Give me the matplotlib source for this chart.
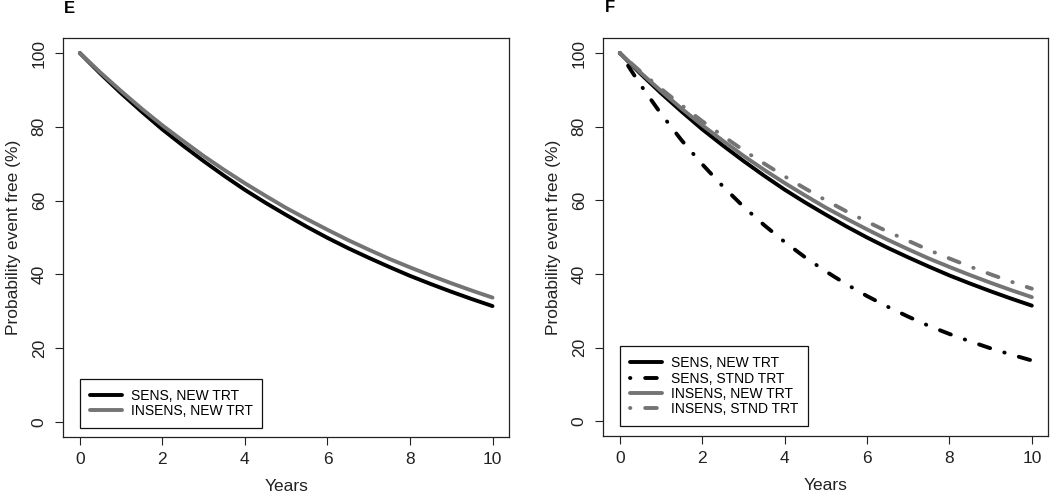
import matplotlib
matplotlib.use("Agg")
import matplotlib.pyplot as plt

plt.rcParams["font.family"] = ["Liberation Sans", "DejaVu Sans"]

years = [0, 0.5, 1, 1.5, 2, 2.5, 3, 3.5, 4, 4.5, 5, 5.5, 6, 6.5, 7, 7.5, 8, 8.5, 9, 9.5, 10]

sens_new = [100, 94.4, 89.1, 84.1, 79.3, 74.9, 70.7, 66.7, 62.9, 59.4, 56.1,
            52.9, 49.9, 47.1, 44.5, 42.0, 39.6, 37.4, 35.3, 33.3, 31.4]
insens_new = [100, 94.7, 89.7, 84.9, 80.4, 76.2, 72.1, 68.3, 64.7, 61.3, 58.0,
              55.0, 52.1, 49.3, 46.7, 44.2, 41.9, 39.7, 37.6, 35.6, 33.7]
sens_stnd = [100, 91.4, 83.5, 76.3, 69.8, 63.8, 58.3, 53.3, 48.7, 44.5, 40.7,
             37.2, 34.0, 31.1, 28.4, 25.9, 23.7, 21.7, 19.8, 18.1, 16.5]
insens_stnd = [100, 95.0, 90.3, 85.8, 81.5, 77.5, 73.6, 70.0, 66.5, 63.2, 60.0,
               57.0, 54.2, 51.5, 49.0, 46.5, 44.2, 42.0, 39.9, 37.9, 36.0]

x_ticks = [0, 2, 4, 6, 8, 10]
y_ticks = [0, 20, 40, 60, 80, 100]

BLACK = "#000000"
GRAY = "#747474"
LW = 2.8
DOTDASH = (0, (0.1, 3.8, 3, 3.8))
FS = 12.5

fig = plt.figure(figsize=(10.5, 4.96), dpi=100)
ax1 = fig.add_axes([0.0603, 0.1196, 0.4245, 0.8032])
ax2 = fig.add_axes([0.5746, 0.1210, 0.4238, 0.8018])


def style_axes(ax):
    ax.set_xlim(-0.4, 10.4)
    ax.set_ylim(-4, 104)
    ax.set_xticks(x_ticks)
    ax.set_yticks(y_ticks)
    ax.tick_params(axis="both", length=5.5, width=0.8, labelsize=FS,
                   color="#222222", labelcolor="#222222")
    ax.tick_params(axis="x", pad=5.5)
    ax.tick_params(axis="y", pad=6.5)
    for lbl in ax.get_yticklabels():
        lbl.set_rotation(90)
        lbl.set_va("center")
    for s in ax.spines.values():
        s.set_linewidth(0.9)
        s.set_color("#222222")
    ax.set_xlabel("Years", fontsize=FS, labelpad=8.5, color="#222222")
    ax.set_ylabel("Probability event free (%)", fontsize=FS, labelpad=8,
                  color="#222222")


# panel E
ax1.plot(years, sens_new, color=BLACK, lw=LW, solid_capstyle="round",
         label="SENS, NEW TRT")
ax1.plot(years, insens_new, color=GRAY, lw=LW, solid_capstyle="round",
         label="INSENS, NEW TRT")
style_axes(ax1)
leg = ax1.legend(loc="lower left", bbox_to_anchor=(0.0375, 0.0218),
                 borderaxespad=0, fontsize=10, handlelength=2.3,
                 handletextpad=0.65, labelspacing=0.1, borderpad=0.7,
                 fancybox=False, edgecolor="#111111", framealpha=1)
leg.get_frame().set_linewidth(0.9)

# panel F
ax2.plot(years, sens_new, color=BLACK, lw=LW, solid_capstyle="round",
         label="SENS, NEW TRT")
ax2.plot(years, sens_stnd, color=BLACK, lw=LW, linestyle=DOTDASH,
         dash_capstyle="round", label="SENS, STND TRT")
ax2.plot(years, insens_new, color=GRAY, lw=LW, solid_capstyle="round",
         label="INSENS, NEW TRT")
ax2.plot(years, insens_stnd, color=GRAY, lw=LW, linestyle=DOTDASH,
         dash_capstyle="round", label="INSENS, STND TRT")
style_axes(ax2)
leg = ax2.legend(loc="lower left", bbox_to_anchor=(0.0384, 0.025),
                 borderaxespad=0, fontsize=10, handlelength=2.3,
                 handletextpad=0.65, labelspacing=0.1, borderpad=0.7,
                 fancybox=False, edgecolor="#111111", framealpha=1)
leg.get_frame().set_linewidth(0.9)

fig.text(0.061, 0.974, "E", fontsize=12, fontweight="bold", va="baseline")
fig.text(0.576, 0.976, "F", fontsize=12, fontweight="bold", va="baseline")

fig.savefig("out.png", dpi=100)
